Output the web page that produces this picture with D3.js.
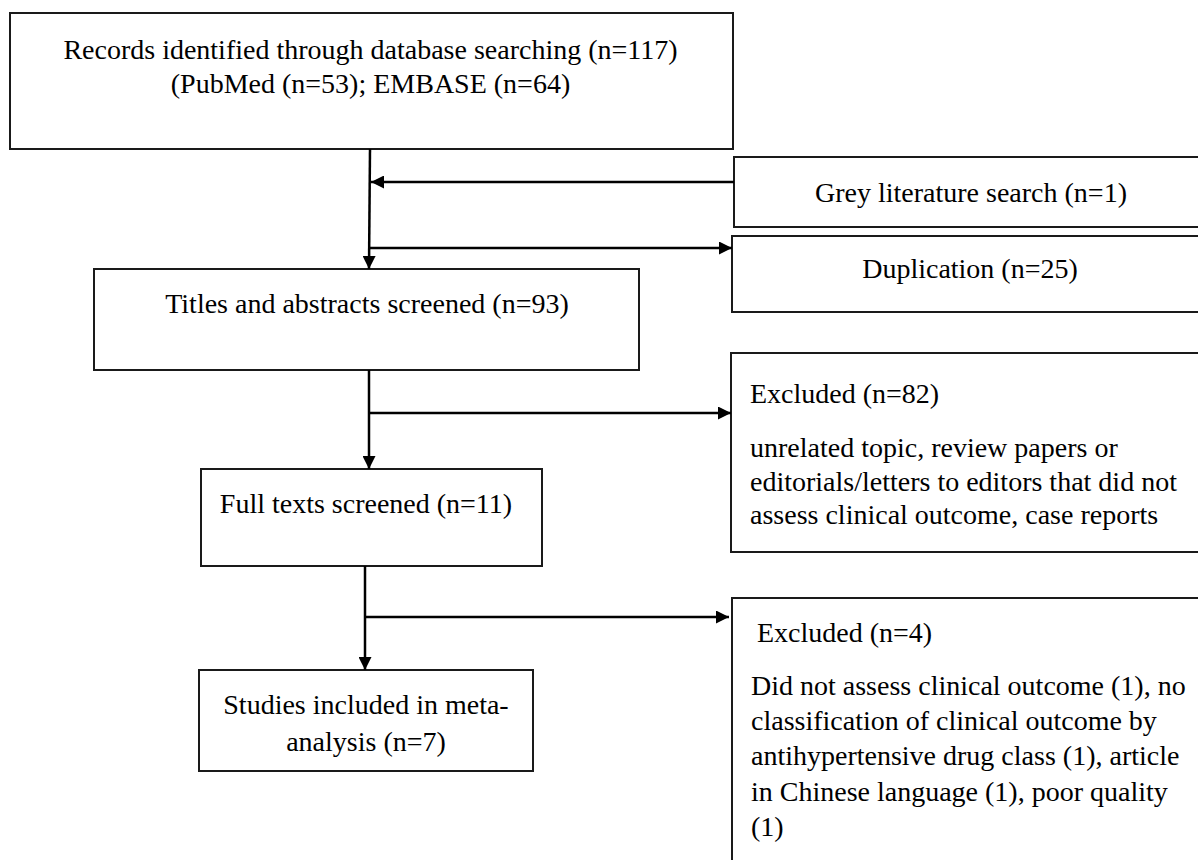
<!DOCTYPE html>
<html>
<head>
<meta charset="utf-8">
<script src="https://cdn.jsdelivr.net/npm/d3@7"></script>
<style>
  html, body { margin: 0; padding: 0; background: #fff; }
  svg { display: block; }
  text { font-family: "Liberation Serif", "Times New Roman", serif; font-size: 28px; fill: #000; }
</style>
</head>
<body>
<svg id="chart" width="1198" height="860"></svg>
<script>
// flow stages (main column)
const stageLabels = [
  "Records identified through database searching",
  "Titles and abstracts screened",
  "Full texts screened",
  "Studies included in meta-analysis",
];
const stageCounts = [117, 93, 11, 7];

// database sources for the first stage
const sourceNames = ["PubMed", "EMBASE"];
const sourceCounts = [53, 64];

// side boxes
const sideLabels = ["Grey literature search", "Duplication", "Excluded", "Excluded"];
const sideCounts = [1, 25, 82, 4];

// reasons for exclusion
const excludedAbstractReasons = [
  "unrelated topic, review papers or editorials/letters to editors that did not assess clinical outcome, case reports",
];
const excludedFullTextReasons = [
  "Did not assess clinical outcome",
  "no classification of clinical outcome by antihypertensive drug class",
  "article in Chinese language",
  "poor quality",
];
const excludedFullTextCounts = [1, 1, 1, 1];

// ---- layout (pixels) ----
const layout = {
  stages: [
    { x: 10, y: 13, w: 723, h: 136, cx: 370.5, base: 59, lh: 34, wrap: 700 },
    { x: 94, y: 269, w: 545, h: 101, cx: 367, base: 313, lh: 34, wrap: 520 },
    { x: 201, y: 469, w: 341, h: 97, cx: 366, base: 513, lh: 34, wrap: 330 },
    { x: 199, y: 670, w: 334, h: 101, cx: 366, base: 714, lh: 37, wrap: 300 },
  ],
  sides: [
    { x: 734, y: 157, w: 480, h: 70, cx: 971, base: 202 },
    { x: 732, y: 236, w: 480, h: 76, cx: 970, base: 278 },
    { x: 731, y: 353, w: 480, h: 199, tx: 750, base: 403, bodyX: 750, bodyBase: 457, lh: 33.6, wrap: 450 },
    { x: 732, y: 598, w: 480, h: 300, tx: 757, base: 642, bodyX: 751, bodyBase: 695, lh: 35.2, wrap: 450 },
  ],
  trunkX: [370, 369, 365],
  branchY: [182, 248, 413, 617],
};

const svg = d3.select("#chart");

svg.append("defs")
  .append("marker")
  .attr("id", "arrow")
  .attr("viewBox", "0 0 10 10")
  .attr("refX", 10)
  .attr("refY", 5)
  .attr("markerUnits", "userSpaceOnUse")
  .attr("markerWidth", 13)
  .attr("markerHeight", 13)
  .attr("orient", "auto")
  .append("path")
  .attr("d", "M0,0L10,5L0,10Z")
  .attr("fill", "#000");

// word wrap that also breaks after hyphens
const wrapLines = (textSel, str, maxWidth) => {
  const tokens = str.split(/ /).flatMap((w) => {
    const parts = w.split(/(?<=-)/);
    return parts.map((p, i) => ({ p, space: i === 0 }));
  });
  const lines = [];
  let cur = "";
  const probe = textSel.append("tspan");
  tokens.forEach(({ p, space }) => {
    const candidate = cur === "" ? p : cur + (space ? " " : "") + p;
    probe.text(candidate);
    if (cur !== "" && probe.node().getComputedTextLength() > maxWidth) {
      lines.push(cur);
      cur = p;
    } else {
      cur = candidate;
    }
  });
  if (cur) lines.push(cur);
  probe.remove();
  return lines;
};

const boxes = svg.append("g").attr("class", "boxes");

// main stage boxes
stageLabels.forEach((label, i) => {
  const L = layout.stages[i];
  boxes.append("rect")
    .attr("x", L.x).attr("y", L.y).attr("width", L.w).attr("height", L.h)
    .attr("fill", "#fff").attr("stroke", "#1a1a1a").attr("stroke-width", 2);

  const t = boxes.append("text").attr("text-anchor", "middle");
  let lines;
  if (i === 0) {
    // the source line is printed without its closing parenthesis in the original
    lines = [
      `${label} (n=${stageCounts[i]})`,
      "(" + sourceNames.map((s, j) => `${s} (n=${sourceCounts[j]})`).join("; "),
    ];
  } else {
    lines = wrapLines(t, `${label} (n=${stageCounts[i]})`, L.wrap);
  }
  lines.forEach((ln, k) => {
    t.append("tspan").attr("x", L.cx).attr("y", L.base + k * L.lh).text(ln);
  });
});

// side boxes
sideLabels.forEach((label, i) => {
  const L = layout.sides[i];
  boxes.append("rect")
    .attr("x", L.x).attr("y", L.y).attr("width", L.w).attr("height", L.h)
    .attr("fill", "#fff").attr("stroke", "#1a1a1a").attr("stroke-width", 2);

  if (i < 2) {
    boxes.append("text")
      .attr("x", L.cx).attr("y", L.base)
      .attr("text-anchor", "middle")
      .text(`${label} (n=${sideCounts[i]})`);
  } else {
    boxes.append("text")
      .attr("x", L.tx).attr("y", L.base)
      .text(`${label} (n=${sideCounts[i]})`);
    const body = i === 2
      ? excludedAbstractReasons.join(", ")
      : excludedFullTextReasons.map((r, j) => `${r} (${excludedFullTextCounts[j]})`).join(", ");
    const t = boxes.append("text");
    const lines = wrapLines(t, body, L.wrap);
    lines.forEach((ln, k) => {
      t.append("tspan").attr("x", L.bodyX).attr("y", L.bodyBase + k * L.lh).text(ln);
    });
  }
});

// connectors
const line = d3.line();
const S = layout.stages;
const D = layout.sides;
const tx = layout.trunkX;
const by = layout.branchY;

const connectors = [
  // vertical trunks
  { pts: [[tx[0], S[0].y + S[0].h], [tx[0] - 1, S[1].y]], arrow: true },
  { pts: [[tx[1], S[1].y + S[1].h], [tx[1], S[2].y]], arrow: true },
  { pts: [[tx[2], S[2].y + S[2].h], [tx[2], S[3].y]], arrow: true },
  // grey literature into the trunk
  { pts: [[D[0].x, by[0]], [tx[0] + 1, by[0]]], arrow: true },
  // branches out to the side boxes
  { pts: [[tx[0], by[1]], [D[1].x, by[1]]], arrow: true },
  { pts: [[tx[1], by[2]], [D[2].x, by[2]]], arrow: true },
  { pts: [[tx[2], by[3]], [D[3].x - 3, by[3]]], arrow: true },
];

svg.append("g")
  .attr("class", "connectors")
  .selectAll("path")
  .data(connectors)
  .join("path")
  .attr("d", (d) => line(d.pts))
  .attr("fill", "none")
  .attr("stroke", "#000")
  .attr("stroke-width", 2.5)
  .attr("marker-end", (d) => (d.arrow ? "url(#arrow)" : null));
</script>
</body>
</html>
